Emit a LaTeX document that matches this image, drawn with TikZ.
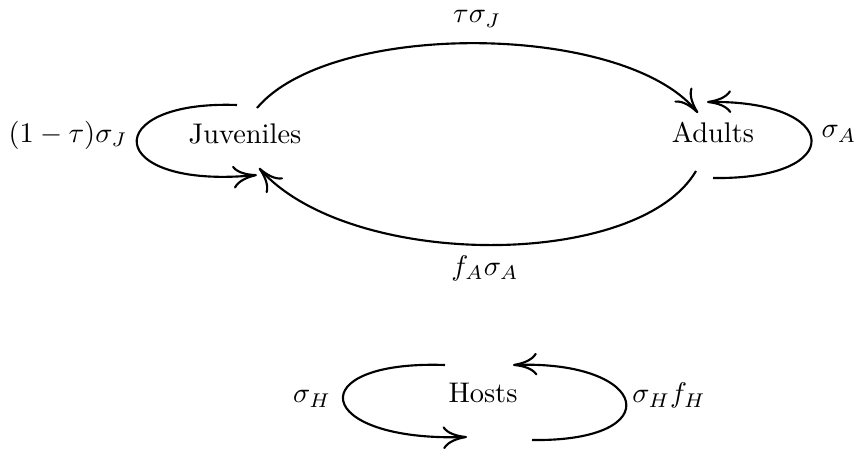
\documentclass[tikz,border=0pt]{standalone}
\usetikzlibrary{arrows.meta,calc}
\begin{document}
\begin{tikzpicture}[x=0.3521pt,y=-0.3521pt,
  state/.style={inner sep=0pt},
  lab/.style={inner sep=0pt},
  flow/.style={line width=0.75pt,-{To[length=8.5pt,width=8pt]}}]
\useasboundingbox (0,0) rectangle (856,451);
% states
\node[state,anchor=base] (J) at (245,144) {Juveniles};
\node[state,anchor=base] (A) at (713,143) {Adults};
\node[state,anchor=base] (H) at (483,403) {Hosts};
% labels
\node[lab,anchor=base] (lJA) at (477,23) {$\tau\sigma_J$};
\node[lab] (lAJ) at (485,268) {$f_A\sigma_A$};
\node[lab] (lJJ) at (68,135) {$(1-\tau)\sigma_J$};
\node[lab,anchor=base] (lAA) at (839,138) {$\sigma_A$};
\node[lab,anchor=base] (lHl) at (312,403) {$\sigma_H$};
\node[lab,anchor=base] (lHr) at (669,403) {$\sigma_H f_H$};
% connectors
\draw[flow] ($(J.base)+(-8,-39)$) .. controls (98,100) and (103,190) .. ($(J.base)+(12,31)$);
\draw[flow] ($(J.base)+(12,-36)$) .. controls (331,20) and (624,22) .. ($(A.base)+(-15,-30)$);
\draw[flow] ($(A.base)+(-17,28)$) .. controls (638,270) and (350,270) .. ($(J.base)+(14,24)$);
\draw[flow] ($(A.base)+(0,35)$) .. controls (848,180) and (842,100) .. ($(A.base)+(-6,-41)$);
\draw[flow] ($(H.base)+(-38,-38)$) .. controls (300,360) and (312,442) .. ($(H.base)+(-16,34)$);
\draw[flow] ($(H.base)+(49,37)$) .. controls (670,442) and (650,360) .. ($(H.base)+(30,-38)$);
\end{tikzpicture}
\end{document}
